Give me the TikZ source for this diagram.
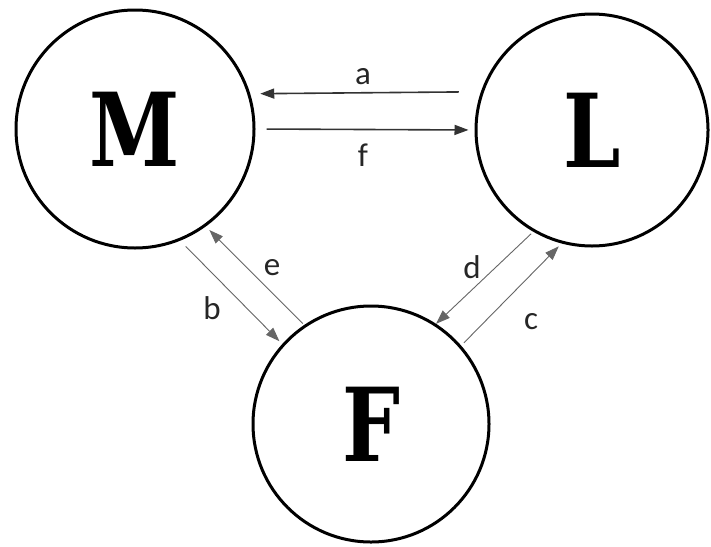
\documentclass[tikz,border=0pt]{standalone}
\usepackage{fontspec}
\setmainfont{Carlito}
\newfontfamily\bigletter{DejaVu Serif}
\usetikzlibrary{arrows.meta}
\newcommand{\statetext}[1]{\scalebox{0.8}[1]{#1}}
\begin{document}
\begin{tikzpicture}[x=1pt,y=-1pt,
  state/.style={circle,draw=black,line width=3pt,inner sep=0pt,minimum size=#1,
    font=\bigletter\bfseries\fontsize{102}{102}\selectfont},
  flowmain/.style={draw=black!80,line width=1.6pt,-{Triangle[length=14pt,width=10pt]}},
  flowthin/.style={draw=black!60,line width=0.9pt,-{Triangle[length=14pt,width=10pt]}},
  lbl/.style={font=\fontsize{33}{33}\selectfont,text=black!85,inner sep=0pt}]
\useasboundingbox[fill=white] (0,0) rectangle (711,546);
\node[state=238pt] (M) at (135,129) {\statetext{M}};
\node[state=232pt] (L) at (592,130) {\statetext{L}};
\node[state=236pt] (F) at (371,424) {\statetext{F}};
% a and f
\draw[flowmain,shorten <=22pt,shorten >=10pt] (L.161.4) -- (M.17.6);
\draw[flowmain,shorten <=11pt,shorten >=6pt] (M.east) -- (L.west);
% b and e
\draw[flowthin,shorten <=8pt,shorten >=4pt] (M.-68.3) -- (F.138.3);
\draw[flowthin,shorten <=2pt,shorten >=5pt] (F.124.5) -- (M.-54.5);
% d and c
\draw[flowthin,shorten <=3pt,shorten >=0pt] (L.-120.2) -- (F.57.4);
\draw[flowthin,shorten <=4pt,shorten >=4pt] (F.41.4) -- (L.-105.3);
\node[lbl] (la) at (363,77) {a};
\node[lbl] (lf) at (363,155) {f};
\node[lbl] (le) at (272,268) {e};
\node[lbl] (lb) at (212,308) {b};
\node[lbl] (ld) at (472,267) {d};
\node[lbl] (lc) at (531,322) {c};
\end{tikzpicture}
\end{document}
